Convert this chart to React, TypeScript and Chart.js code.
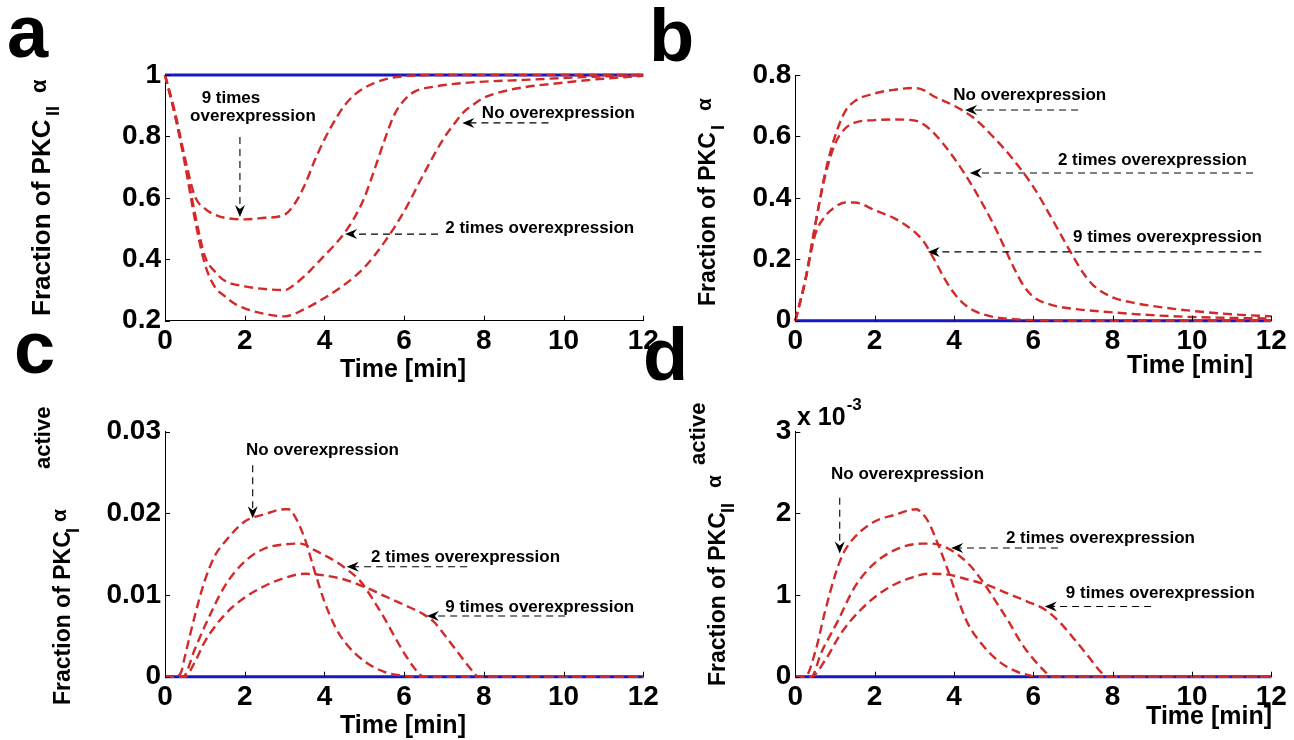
import { useEffect, useRef } from 'react';
import { Chart, registerables } from 'chart.js';

Chart.register(...registerables);

// ---------------- data ----------------
const X_TICKS = [0, 2, 4, 6, 8, 10, 12];
const A_Y_TICKS = [0.2, 0.4, 0.6, 0.8, 1];
const B_Y_TICKS = [0, 0.2, 0.4, 0.6, 0.8];
const C_Y_TICKS = [0, 0.01, 0.02, 0.03];
const D_Y_TICKS = [0, 1, 2, 3];

// Panel a: Fraction of PKC_II alpha
const A_NO_T = [0, 0.25, 0.5, 0.75, 1, 1.25, 1.5, 1.75, 2, 2.5, 3, 3.5, 4, 4.5, 5, 5.5, 6, 6.5, 7, 7.25, 7.5, 7.75, 8, 8.5, 9, 10, 11, 12];
const A_NO_V = [1, 0.87, 0.71, 0.53, 0.385, 0.31, 0.28, 0.255, 0.24, 0.222, 0.214, 0.238, 0.274, 0.317, 0.373, 0.455, 0.556, 0.68, 0.795, 0.84, 0.88, 0.905, 0.926, 0.947, 0.96, 0.975, 0.988, 0.997];
const A_2X_T = [0, 0.25, 0.5, 0.75, 1, 1.25, 1.5, 2, 2.5, 3, 3.25, 3.5, 3.75, 4, 4.25, 4.5, 4.75, 5, 5.25, 5.5, 5.75, 6, 6.25, 6.75, 7.5, 9, 10.5, 12];
const A_2X_V = [1, 0.87, 0.72, 0.55, 0.41, 0.36, 0.33, 0.312, 0.303, 0.3, 0.318, 0.345, 0.378, 0.412, 0.446, 0.485, 0.535, 0.6, 0.69, 0.785, 0.87, 0.918, 0.945, 0.962, 0.974, 0.984, 0.993, 1];
const A_9X_T = [0, 0.25, 0.5, 0.75, 1, 1.25, 1.5, 2, 2.5, 3, 3.25, 3.5, 3.75, 4, 4.25, 4.5, 4.75, 5, 5.5, 6, 7, 12];
const A_9X_V = [1, 0.88, 0.73, 0.605, 0.565, 0.545, 0.535, 0.53, 0.535, 0.545, 0.58, 0.64, 0.72, 0.79, 0.85, 0.9, 0.935, 0.958, 0.985, 0.996, 1, 1];
const A_BASE_T = [0, 12];
const A_BASE_V = [1, 1];

// Panel b: Fraction of PKC_I alpha
const B_NO_T = [0, 0.25, 0.5, 0.75, 1, 1.25, 1.5, 2, 2.5, 3, 3.25, 3.5, 4, 4.5, 5, 5.5, 6, 6.5, 7, 7.25, 7.5, 8, 8.5, 9, 10, 11, 12];
const B_NO_V = [0, 0.13, 0.31, 0.48, 0.6, 0.68, 0.715, 0.74, 0.752, 0.758, 0.75, 0.73, 0.7, 0.66, 0.597, 0.524, 0.436, 0.325, 0.21, 0.157, 0.117, 0.076, 0.059, 0.048, 0.032, 0.021, 0.014];
const B_2X_T = [0, 0.25, 0.5, 0.75, 1, 1.25, 1.5, 2, 2.5, 3, 3.25, 3.5, 4, 4.5, 5, 5.25, 5.5, 5.75, 6, 6.5, 7, 8, 9, 10, 12];
const B_2X_V = [0, 0.13, 0.31, 0.47, 0.575, 0.625, 0.645, 0.653, 0.655, 0.652, 0.638, 0.61, 0.53, 0.43, 0.313, 0.245, 0.175, 0.115, 0.078, 0.05, 0.039, 0.027, 0.018, 0.012, 0.007];
const B_9X_T = [0, 0.25, 0.5, 0.75, 1, 1.25, 1.5, 2, 2.5, 3, 3.25, 3.5, 3.75, 4, 4.25, 4.5, 5, 5.5, 6, 7, 12];
const B_9X_V = [0, 0.13, 0.28, 0.34, 0.37, 0.385, 0.385, 0.36, 0.333, 0.29, 0.255, 0.2, 0.14, 0.09, 0.055, 0.033, 0.012, 0.005, 0.002, 0, 0];
const B_BASE_T = [0, 12];
const B_BASE_V = [0, 0];

// Panel c: Fraction of PKC_I alpha active
const C_NO_T = [0, 0.25, 0.4, 0.5, 0.75, 1, 1.25, 1.5, 2, 2.5, 3, 3.1, 3.25, 3.5, 3.75, 4, 4.25, 4.5, 5, 5.5, 6, 6.25, 12];
const C_NO_V = [0, 0, 0.0005, 0.0025, 0.0075, 0.0118, 0.0148, 0.0165, 0.019, 0.0199, 0.0205, 0.0205, 0.0197, 0.017, 0.013, 0.0092, 0.0063, 0.0043, 0.0019, 0.0006, 0.0001, 0, 0];
const C_2X_T = [0, 0.45, 0.75, 1, 1.5, 2, 2.5, 3, 3.4, 3.75, 4.25, 4.6, 4.9, 5.25, 5.5, 5.75, 6, 6.25, 6.5, 12];
const C_2X_V = [0, 0, 0.0034, 0.0062, 0.0111, 0.0141, 0.0157, 0.0162, 0.0163, 0.0155, 0.0142, 0.013, 0.0117, 0.0092, 0.0072, 0.005, 0.0029, 0.0011, 0, 0];
const C_9X_T = [0, 0.5, 0.75, 1, 1.5, 2, 2.5, 3, 3.5, 4, 4.5, 5, 5.5, 6, 6.5, 6.75, 7, 7.25, 7.5, 7.75, 7.85, 12];
const C_9X_V = [0, 0, 0.0018, 0.0043, 0.0076, 0.0097, 0.0111, 0.0121, 0.0126, 0.0124, 0.0119, 0.011, 0.0099, 0.0088, 0.0076, 0.0067, 0.0052, 0.0036, 0.002, 0.0005, 0, 0];
const C_BASE_T = [0, 12];
const C_BASE_V = [0, 0];

// Panel d: Fraction of PKC_II alpha active (x 10^-3)
const D_NO_T = [0, 0.25, 0.5, 0.75, 1, 1.2, 1.5, 2, 2.5, 3.05, 3.2, 3.35, 3.6, 3.85, 4.1, 4.35, 4.7, 5.1, 5.5, 5.95, 6.1, 12];
const D_NO_V = [0, 0, 0.3, 0.8, 1.24, 1.5, 1.71, 1.9, 1.98, 2.05, 2.0, 1.9, 1.62, 1.3, 0.95, 0.65, 0.4, 0.2, 0.08, 0.01, 0, 0];
const D_2X_T = [0, 0.4, 0.66, 1.08, 1.5, 2, 2.6, 3.2, 3.45, 3.85, 4.35, 4.7, 5.03, 5.36, 5.7, 6.03, 6.3, 6.45, 12];
const D_2X_V = [0, 0, 0.3, 0.69, 1.1, 1.39, 1.57, 1.63, 1.63, 1.57, 1.39, 1.18, 0.94, 0.69, 0.41, 0.2, 0.06, 0, 0];
const D_9X_T = [0, 0.4, 0.75, 1.15, 1.65, 2.25, 2.85, 3.35, 3.85, 4.35, 4.85, 5.35, 5.85, 6.3, 6.7, 7.05, 7.4, 7.7, 7.85, 12];
const D_9X_V = [0, 0, 0.2, 0.53, 0.82, 1.06, 1.2, 1.26, 1.25, 1.19, 1.12, 1.02, 0.92, 0.82, 0.65, 0.45, 0.24, 0.06, 0, 0];
const D_BASE_T = [0, 12];
const D_BASE_V = [0, 0];

// annotation texts: [label, t, value]; arrows: [tailT, tailV, tipT, tipV]
const A_NOTES: [string, number, number][] = [
  ['9 times', 0.92, 0.909],
  ['overexpression', 0.63, 0.849],
  ['No overexpression', 7.95, 0.86],
  ['2 times overexpression', 7.03, 0.486],
];
const A_ARROWS: [number, number, number, number][] = [
  [1.88, 0.798, 1.88, 0.538],
  [9.62, 0.844, 7.46, 0.844],
  [6.85, 0.482, 4.52, 0.482],
];
const B_NOTES: [string, number, number][] = [
  ['No overexpression', 3.98, 0.719],
  ['2 times overexpression', 6.62, 0.507],
  ['9 times overexpression', 7.0, 0.256],
];
const B_ARROWS: [number, number, number, number][] = [
  [7.13, 0.686, 4.28, 0.686],
  [11.54, 0.481, 4.4, 0.481],
  [11.75, 0.224, 3.34, 0.224],
];
const C_NOTES: [string, number, number][] = [
  ['No overexpression', 2.03, 0.02715],
  ['2 times overexpression', 5.17, 0.01409],
  ['9 times overexpression', 7.03, 0.00798],
];
const C_ARROWS: [number, number, number, number][] = [
  [2.2, 0.0259, 2.2, 0.0194],
  [7.58, 0.01347, 4.56, 0.01347],
  [10.04, 0.00743, 6.57, 0.00743],
];
const D_NOTES: [string, number, number][] = [
  ['No overexpression', 0.9, 2.42],
  ['2 times overexpression', 5.31, 1.637],
  ['9 times overexpression', 6.82, 0.964],
];
const D_ARROWS: [number, number, number, number][] = [
  [1.12, 2.19, 1.12, 1.51],
  [6.62, 1.576, 3.93, 1.576],
  [8.97, 0.86, 6.29, 0.86],
];

// ---------------- styling / layout ----------------
const W = 1294;
const H = 740;
const FONT = '"Liberation Sans", Arial, Helvetica, sans-serif';
const RED = '#d22a2a';
const BLUE = '#1818c0';

type Part = { text: string; size: number; u: number; dy: number; bold?: boolean };

type Panel = {
  key: string;
  area: { left: number; top: number; right: number; bottom: number };
  yTicks: number[];
  yMin: number;
  yMax: number;
  series: [number[], number[]][];
  base: [number[], number[]];
  notes: [string, number, number][];
  arrows: [number, number, number, number][];
  xPad: number;
  letter: { ch: string; x: number; y: number };
  xTitle: { x: number; y: number; align: CanvasTextAlign };
  yTitle: { x: number; y: number; parts: Part[] };
  exponent?: { x: number; y: number };
};

const PANELS: Panel[] = [
  {
    key: 'a',
    area: { left: 165, top: 75, right: 643.3, bottom: 320.7 },
    yTicks: A_Y_TICKS, yMin: 0.2, yMax: 1,
    series: [[A_NO_T, A_NO_V], [A_2X_T, A_2X_V], [A_9X_T, A_9X_V]],
    base: [A_BASE_T, A_BASE_V],
    notes: A_NOTES, arrows: A_ARROWS, xPad: 4,
    letter: { ch: 'a', x: 7, y: 57 },
    xTitle: { x: 403, y: 377, align: 'center' },
    yTitle: {
      x: 50, y: 316, parts: [
        { text: 'Fraction of PKC', size: 26, u: 0, dy: 0, bold: true },
        { text: 'II', size: 18, u: 200, dy: 9, bold: true },
        { text: 'α', size: 22, u: 223, dy: -4, bold: true },
      ],
    },
  },
  {
    key: 'b',
    area: { left: 795.3, top: 75, right: 1271.3, bottom: 320.7 },
    yTicks: B_Y_TICKS, yMin: 0, yMax: 0.8,
    series: [[B_NO_T, B_NO_V], [B_2X_T, B_2X_V], [B_9X_T, B_9X_V]],
    base: [B_BASE_T, B_BASE_V],
    notes: B_NOTES, arrows: B_ARROWS, xPad: 4,
    letter: { ch: 'b', x: 649, y: 61 },
    xTitle: { x: 1253, y: 373, align: 'right' },
    yTitle: {
      x: 715, y: 306, parts: [
        { text: 'Fraction of PKC', size: 23, u: 0, dy: 0, bold: true },
        { text: 'I', size: 18, u: 176, dy: 9, bold: true },
        { text: 'α', size: 21, u: 195, dy: -4, bold: true },
      ],
    },
  },
  {
    key: 'c',
    area: { left: 165, top: 431.7, right: 643.3, bottom: 676.7 },
    yTicks: C_Y_TICKS, yMin: 0, yMax: 0.03,
    series: [[C_NO_T, C_NO_V], [C_2X_T, C_2X_V], [C_9X_T, C_9X_V]],
    base: [C_BASE_T, C_BASE_V],
    notes: C_NOTES, arrows: C_ARROWS, xPad: 4,
    letter: { ch: 'c', x: 14, y: 373 },
    xTitle: { x: 403, y: 733, align: 'center' },
    yTitle: {
      x: 70, y: 705, parts: [
        { text: 'Fraction of PKC', size: 23, u: 0, dy: 0, bold: true },
        { text: 'I', size: 18, u: 172, dy: 9, bold: true },
        { text: 'α', size: 21, u: 183, dy: -4, bold: true },
        { text: 'active', size: 22, u: 236, dy: -20, bold: true },
      ],
    },
  },
  {
    key: 'd',
    area: { left: 795.3, top: 431.7, right: 1271.3, bottom: 676.7 },
    yTicks: D_Y_TICKS, yMin: 0, yMax: 3,
    series: [[D_NO_T, D_NO_V], [D_2X_T, D_2X_V], [D_9X_T, D_9X_V]],
    base: [D_BASE_T, D_BASE_V],
    notes: D_NOTES, arrows: D_ARROWS, xPad: 4,
    letter: { ch: 'd', x: 643, y: 380 },
    xTitle: { x: 1272, y: 724, align: 'right' },
    yTitle: {
      x: 725, y: 686, parts: [
        { text: 'Fraction of PKC', size: 23, u: 0, dy: 0, bold: true },
        { text: 'II', size: 18, u: 173, dy: 9, bold: true },
        { text: 'α', size: 21, u: 198, dy: -4, bold: true },
        { text: 'active', size: 22, u: 221, dy: -20, bold: true },
      ],
    },
    exponent: { x: 797, y: 425 },
  },
];

function fmtTick(v: number): string {
  return String(Math.round(v * 1000) / 1000);
}

function drawArrow(ctx: CanvasRenderingContext2D, x1: number, y1: number, x2: number, y2: number) {
  const dx = x2 - x1;
  const dy = y2 - y1;
  const len = Math.hypot(dx, dy) || 1;
  const ux = dx / len;
  const uy = dy / len;
  const nx = -uy;
  const ny = ux;
  const headL = 12;
  const headW = 5;
  ctx.save();
  ctx.strokeStyle = '#000';
  ctx.lineWidth = 1.1;
  ctx.setLineDash([7, 5]);
  ctx.beginPath();
  ctx.moveTo(x1, y1);
  ctx.lineTo(x2 - ux * 8, y2 - uy * 8);
  ctx.stroke();
  ctx.setLineDash([]);
  ctx.fillStyle = '#000';
  ctx.beginPath();
  ctx.moveTo(x2, y2);
  ctx.lineTo(x2 - ux * headL + nx * headW, y2 - uy * headL + ny * headW);
  ctx.lineTo(x2 - ux * 8, y2 - uy * 8);
  ctx.lineTo(x2 - ux * headL - nx * headW, y2 - uy * headL - ny * headW);
  ctx.closePath();
  ctx.fill();
  ctx.restore();
}

function makeOverlay(p: Panel) {
  return {
    id: 'overlay_' + p.key,
    afterDraw(chart: any) {
      const ctx: CanvasRenderingContext2D = chart.ctx;
      const xs = chart.scales.x;
      const ys = chart.scales.y;
      const area = chart.chartArea;
      ctx.save();
      // inward tick marks
      ctx.strokeStyle = '#000';
      ctx.lineWidth = 1;
      for (const v of X_TICKS) {
        const px = Math.round(xs.getPixelForValue(v)) + 0.5;
        ctx.beginPath();
        ctx.moveTo(px, area.bottom);
        ctx.lineTo(px, area.bottom - 5);
        ctx.stroke();
      }
      for (const v of p.yTicks) {
        const py = Math.round(ys.getPixelForValue(v)) + 0.5;
        ctx.beginPath();
        ctx.moveTo(area.left, py);
        ctx.lineTo(area.left + 5, py);
        ctx.stroke();
      }
      // arrows
      for (const [t1, v1, t2, v2] of p.arrows) {
        drawArrow(ctx, xs.getPixelForValue(t1), ys.getPixelForValue(v1), xs.getPixelForValue(t2), ys.getPixelForValue(v2));
      }
      // annotation texts
      ctx.fillStyle = '#000';
      ctx.textBaseline = 'alphabetic';
      ctx.textAlign = 'left';
      ctx.font = `bold 17px ${FONT}`;
      for (const [s, t, v] of p.notes) {
        ctx.fillText(s, xs.getPixelForValue(t), ys.getPixelForValue(v));
      }
      // panel letter
      ctx.font = `bold 74px ${FONT}`;
      ctx.fillText(p.letter.ch, p.letter.x, p.letter.y);
      // x title
      ctx.font = `bold 25px ${FONT}`;
      ctx.textAlign = p.xTitle.align;
      ctx.fillText('Time [min]', p.xTitle.x, p.xTitle.y);
      ctx.textAlign = 'left';
      // exponent label
      if (p.exponent) {
        ctx.font = `bold 25px ${FONT}`;
        ctx.fillText('x 10', p.exponent.x, p.exponent.y);
        const w = ctx.measureText('x 10').width;
        ctx.font = `bold 17px ${FONT}`;
        ctx.fillText('-3', p.exponent.x + w + 1, p.exponent.y - 15);
      }
      // y title (rotated)
      ctx.translate(p.yTitle.x, p.yTitle.y);
      ctx.rotate(-Math.PI / 2);
      for (const part of p.yTitle.parts) {
        ctx.font = `${part.bold ? 'bold ' : ''}${part.size}px ${FONT}`;
        ctx.fillText(part.text, part.u, part.dy);
      }
      ctx.restore();
    },
  };
}

function PanelChart({ p }: { p: Panel }) {
  const ref = useRef<HTMLCanvasElement | null>(null);
  useEffect(() => {
    if (!ref.current) return;
    const toPts = (t: number[], v: number[]) => t.map((x, i) => ({ x, y: v[i] }));
    const datasets: any[] = p.series.map(([t, v]) => ({
      data: toPts(t, v),
      borderColor: RED,
      borderWidth: 2.4,
      borderDash: [9, 5],
      pointRadius: 0,
      fill: false,
      cubicInterpolationMode: 'monotone',
      clip: false,
    }));
    datasets.push({
      data: toPts(p.base[0], p.base[1]),
      borderColor: BLUE,
      borderWidth: 3,
      pointRadius: 0,
      fill: false,
      clip: false,
    });
    const tickFont = { family: FONT, size: 28, weight: 'bold' as const };
    const chart = new Chart(ref.current, {
      type: 'line',
      data: { datasets },
      options: {
        responsive: false,
        animation: false,
        devicePixelRatio: 1,
        events: [],
        layout: { padding: { left: 0, top: p.area.top, right: W - p.area.right, bottom: 0 } },
        plugins: { legend: { display: false }, tooltip: { enabled: false }, title: { display: false } },
        scales: {
          x: {
            type: 'linear',
            min: 0,
            max: 12,
            afterBuildTicks: (s: any) => { s.ticks = X_TICKS.map((value) => ({ value })); },
            afterFit: (s: any) => { s.height = H - p.area.bottom; },
            grid: { display: true, drawOnChartArea: false, drawTicks: false },
            border: { display: true, color: '#000', width: 1 },
            ticks: { font: tickFont, color: '#000', padding: p.xPad, maxRotation: 0, autoSkip: false, callback: (v: any) => fmtTick(Number(v)) },
          },
          y: {
            type: 'linear',
            min: p.yMin,
            max: p.yMax,
            afterBuildTicks: (s: any) => { s.ticks = p.yTicks.map((value) => ({ value })); },
            afterFit: (s: any) => { s.width = p.area.left; },
            grid: { display: true, drawOnChartArea: false, drawTicks: false },
            border: { display: true, color: '#000', width: 1 },
            ticks: { font: tickFont, color: '#000', padding: 4, autoSkip: false, callback: (v: any) => fmtTick(Number(v)) },
          },
        },
      },
      plugins: [makeOverlay(p)],
    } as any);
    return () => chart.destroy();
  }, [p]);
  return (
    <canvas
      ref={ref}
      width={W}
      height={H}
      style={{ position: 'absolute', left: 0, top: 0, width: W, height: H }}
    />
  );
}

export default function App() {
  return (
    <div style={{ position: 'fixed', left: 0, top: 0, width: W, height: H, background: '#fff', overflow: 'hidden' }}>
      {PANELS.map((p) => (
        <PanelChart key={p.key} p={p} />
      ))}
    </div>
  );
}
